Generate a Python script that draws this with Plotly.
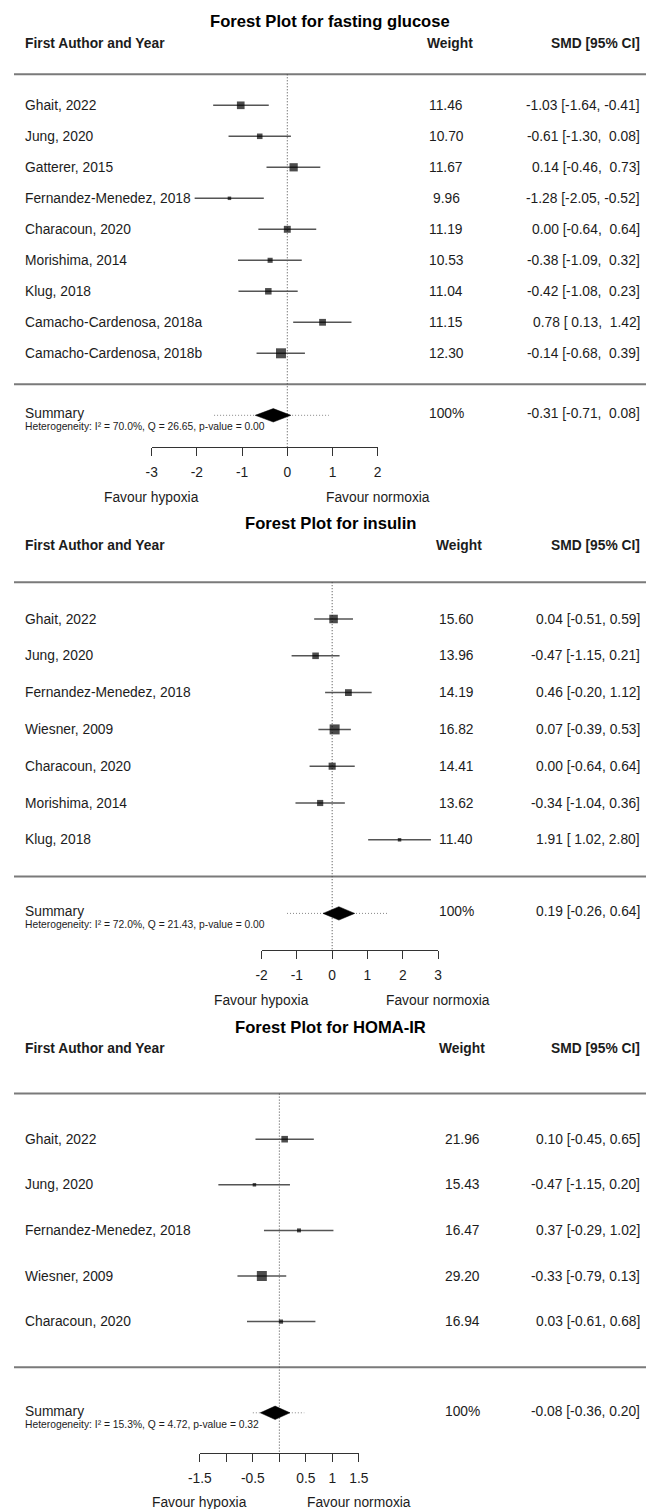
import plotly.graph_objects as go

FONT = "Liberation Sans, Arial, Helvetica, sans-serif"
W, H = 646, 1509

# ---------------- data ----------------
fg_title = "Forest Plot for fasting glucose"
fg_studies = ["Ghait, 2022", "Jung, 2020", "Gatterer, 2015", "Fernandez-Menedez, 2018",
              "Characoun, 2020", "Morishima, 2014", "Klug, 2018",
              "Camacho-Cardenosa, 2018a", "Camacho-Cardenosa, 2018b"]
fg_weight = [11.46, 10.70, 11.67, 9.96, 11.19, 10.53, 11.04, 11.15, 12.30]
fg_smd = [-1.03, -0.61, 0.14, -1.28, 0.00, -0.38, -0.42, 0.78, -0.14]
fg_lo = [-1.64, -1.30, -0.46, -2.05, -0.64, -1.09, -1.08, 0.13, -0.68]
fg_hi = [-0.41, 0.08, 0.73, -0.52, 0.64, 0.32, 0.23, 1.42, 0.39]
fg_summary = [-0.31, -0.71, 0.08]
fg_pred = [-1.62, 0.92]
fg_het = "Heterogeneity: I² = 70.0%, Q = 26.65, p-value = 0.00"
fg_ticks = [-3, -2, -1, 0, 1, 2]
fg_ticklabels = ["-3", "-2", "-1", "0", "1", "2"]

in_title = "Forest Plot for insulin"
in_studies = ["Ghait, 2022", "Jung, 2020", "Fernandez-Menedez, 2018", "Wiesner, 2009",
              "Characoun, 2020", "Morishima, 2014", "Klug, 2018"]
in_weight = [15.60, 13.96, 14.19, 16.82, 14.41, 13.62, 11.40]
in_smd = [0.04, -0.47, 0.46, 0.07, 0.00, -0.34, 1.91]
in_lo = [-0.51, -1.15, -0.20, -0.39, -0.64, -1.04, 1.02]
in_hi = [0.59, 0.21, 1.12, 0.53, 0.64, 0.36, 2.80]
in_summary = [0.19, -0.26, 0.64]
in_pred = [-1.28, 1.60]
in_het = "Heterogeneity: I² = 72.0%, Q = 21.43, p-value = 0.00"
in_ticks = [-2, -1, 0, 1, 2, 3]
in_ticklabels = ["-2", "-1", "0", "1", "2", "3"]

hr_title = "Forest Plot for HOMA-IR"
hr_studies = ["Ghait, 2022", "Jung, 2020", "Fernandez-Menedez, 2018", "Wiesner, 2009",
              "Characoun, 2020"]
hr_weight = [21.96, 15.43, 16.47, 29.20, 16.94]
hr_smd = [0.10, -0.47, 0.37, -0.33, 0.03]
hr_lo = [-0.45, -1.15, -0.29, -0.79, -0.61]
hr_hi = [0.65, 0.20, 1.02, 0.13, 0.68]
hr_summary = [-0.08, -0.36, 0.20]
hr_pred = [-0.50, 0.47]
hr_het = "Heterogeneity: I² = 15.3%, Q = 4.72, p-value = 0.32"
hr_ticks = [-1.5, -1, -0.5, 0, 0.5, 1, 1.5]
hr_ticklabels = ["-1.5", "", "-0.5", "", "0.5", "1", "1.5"]

header_cols = ["First Author and Year", "Weight", "SMD [95% CI]"]
summary_label = "Summary"
summary_weight = "100%"
favour_left = "Favour hypoxia"
favour_right = "Favour normoxia"

# ---------------- layout (pixel geometry, separate from data) ----------------
LAYOUT = [
    dict(title_px=22, header_px=43.3, step=31.0, axis_px=447, favour_px=497,
         ax_left=151.7, ax_right=377.7, w_hdr=450, w_val=446),
    dict(title_px=523, header_px=545.4, step=36.8, axis_px=950, favour_px=1000,
         ax_left=261.6, ax_right=438.0, w_hdr=459, w_val=456),
    dict(title_px=1027, header_px=1048, step=45.6, axis_px=1453, favour_px=1502,
         ax_left=199.8, ax_right=358.9, w_hdr=462, w_val=463),
]

PANELS = [
    dict(title=fg_title, studies=fg_studies, weight=fg_weight, smd=fg_smd, lo=fg_lo, hi=fg_hi,
         summary=fg_summary, pred=fg_pred, het=fg_het, ticks=fg_ticks, ticklabels=fg_ticklabels),
    dict(title=in_title, studies=in_studies, weight=in_weight, smd=in_smd, lo=in_lo, hi=in_hi,
         summary=in_summary, pred=in_pred, het=in_het, ticks=in_ticks, ticklabels=in_ticklabels),
    dict(title=hr_title, studies=hr_studies, weight=hr_weight, smd=hr_smd, lo=hr_lo, hi=hr_hi,
         summary=hr_summary, pred=hr_pred, het=hr_het, ticks=hr_ticks, ticklabels=hr_ticklabels),
]

TXT = "#1c1c1c"
FS = 13.8
NB = "\u00a0"


def paper_y(px):
    return 1 - px / H


def paper_x(px):
    return px / W


def ci_strings(est, lo, hi):
    es = [f"{v:.2f}" for v in est]
    ls = [f"{v:.2f}" for v in lo]
    hs = [f"{v:.2f}" for v in hi]
    wl = max(len(s) for s in ls)
    wh = max(len(s) for s in hs)
    out = []
    for e, l, h in zip(es, ls, hs):
        l = NB * (wl - len(l)) + l
        h = NB * (wh - len(h)) + h
        out.append(f"{e} [{l},{NB}{h}]")
    return out


fig = go.Figure()
annotations = []
shapes = []
layout_axes = {}

for k, (p, g) in enumerate(zip(PANELS, LAYOUT), start=1):
    xa = "x" if k == 1 else f"x{k}"
    ya = "y" if k == 1 else f"y{k}"
    n = len(p["studies"])
    s = g["step"]
    hp = g["header_px"]
    rows = list(range(2, n + 2))
    sum_row = n + 3
    axis_row = (g["axis_px"] - hp) / s
    top_row = -1.0
    top_px = hp + top_row * s

    # axes
    layout_axes["xaxis" if k == 1 else f"xaxis{k}"] = dict(
        domain=[paper_x(g["ax_left"]), paper_x(g["ax_right"])],
        range=[min(p["ticks"]), max(p["ticks"])],
        anchor=ya, tickmode="array", tickvals=p["ticks"], ticktext=p["ticklabels"],
        ticks="outside", ticklen=8, tickwidth=1, tickcolor="#333",
        showline=True, linecolor="#333", linewidth=1, automargin=False,
        showgrid=False, zeroline=False, fixedrange=True,
        tickfont=dict(family=FONT, size=FS, color=TXT), ticklabelstandoff=4,
    )
    layout_axes["yaxis" if k == 1 else f"yaxis{k}"] = dict(
        domain=[paper_y(g["axis_px"]), paper_y(top_px)],
        range=[axis_row, top_row], anchor=xa, visible=False, automargin=False,
        showgrid=False, zeroline=False, fixedrange=True,
    )

    # zero reference line
    shapes.append(dict(type="line", xref=xa, yref=ya, x0=0, x1=0, y0=1, y1=axis_row,
                       line=dict(color="#444", width=1, dash="1px,2px"), layer="below"))
    # horizontal rules
    for r in (1, n + 2):
        shapes.append(dict(type="line", xref="paper", yref=ya, x0=paper_x(14), x1=1,
                           y0=r, y1=r, line=dict(color="#7a7a7a", width=2), layer="below"))

    # CI lines
    for r, lo, hi in zip(rows, p["lo"], p["hi"]):
        fig.add_trace(go.Scatter(x=[lo, hi], y=[r, r], mode="lines", xaxis=xa, yaxis=ya,
                                 line=dict(color="#555", width=1.5), hoverinfo="skip",
                                 showlegend=False))
    # boxes sized by weight
    wmin, wmax = min(p["weight"]), max(p["weight"])
    sizes = [3.5 + (w - wmin) / (wmax - wmin) * 6.5 for w in p["weight"]]
    fig.add_trace(go.Scatter(x=p["smd"], y=rows, mode="markers", xaxis=xa, yaxis=ya,
                             marker=dict(symbol="square", size=sizes, color="black",
                                         line=dict(width=0)),
                             hoverinfo="skip", showlegend=False, cliponaxis=False))

    # prediction interval (dotted) and summary diamond
    est, slo, shi = p["summary"]
    fig.add_trace(go.Scatter(x=p["pred"], y=[sum_row, sum_row], mode="lines", xaxis=xa,
                             yaxis=ya, line=dict(color="#888", width=1, dash="1px,2px"),
                             hoverinfo="skip", showlegend=False))
    hh = 6.7 / s
    fig.add_trace(go.Scatter(x=[slo, est, shi, est, slo],
                             y=[sum_row, sum_row - hh, sum_row, sum_row + hh, sum_row],
                             mode="lines", fill="toself", fillcolor="black",
                             line=dict(color="black", width=0.5), xaxis=xa, yaxis=ya,
                             hoverinfo="skip", showlegend=False))

    # title
    annotations.append(dict(text=f"<b>{p['title']}</b>", xref="paper", yref="paper",
                            x=paper_x(330), y=paper_y(g["title_px"]), xanchor="center",
                            yanchor="middle", showarrow=False,
                            font=dict(family=FONT, size=16.6, color="black")))
    # headers
    annotations.append(dict(text=f"<b>{header_cols[0]}</b>", xref="paper", yref=ya,
                            x=paper_x(23), y=0, xanchor="left", yanchor="middle",
                            showarrow=False, font=dict(family=FONT, size=FS, color=TXT)))
    annotations.append(dict(text=f"<b>{header_cols[1]}</b>", xref="paper", yref=ya,
                            x=paper_x(g["w_hdr"]), y=0, xanchor="center", yanchor="middle",
                            showarrow=False, font=dict(family=FONT, size=FS, color=TXT)))
    annotations.append(dict(text=f"<b>{header_cols[2]}</b>", xref="paper", yref=ya,
                            x=paper_x(641.5), y=0, xanchor="right", yanchor="middle",
                            showarrow=False, font=dict(family=FONT, size=FS, color=TXT)))

    ci_txt = ci_strings(p["smd"] + [est], p["lo"] + [slo], p["hi"] + [shi])
    for i, r in enumerate(rows):
        annotations.append(dict(text=p["studies"][i], xref="paper", yref=ya, x=paper_x(23),
                                y=r, xanchor="left", yanchor="middle", showarrow=False,
                                font=dict(family=FONT, size=FS, color=TXT)))
        annotations.append(dict(text=f"{p['weight'][i]:.2f}", xref="paper", yref=ya,
                                x=paper_x(g["w_val"]), y=r, xanchor="center",
                                yanchor="middle", showarrow=False,
                                font=dict(family=FONT, size=FS, color=TXT)))
        annotations.append(dict(text=ci_txt[i], xref="paper", yref=ya, x=paper_x(641.5),
                                y=r, xanchor="right", yanchor="middle", showarrow=False,
                                font=dict(family=FONT, size=FS, color=TXT)))
    # summary row
    annotations.append(dict(text=summary_label, xref="paper", yref=ya, x=paper_x(23),
                            y=sum_row - 1.5 / s, xanchor="left", yanchor="middle",
                            showarrow=False, font=dict(family=FONT, size=FS, color=TXT)))
    annotations.append(dict(text=p["het"], xref="paper", yref=ya, x=paper_x(22.5),
                            y=sum_row + 11.5 / s, xanchor="left", yanchor="middle",
                            showarrow=False, font=dict(family=FONT, size=10.3, color=TXT)))
    annotations.append(dict(text=summary_weight, xref="paper", yref=ya, x=paper_x(g["w_val"]),
                            y=sum_row - 1.5 / s, xanchor="center", yanchor="middle",
                            showarrow=False, font=dict(family=FONT, size=FS, color=TXT)))
    annotations.append(dict(text=ci_txt[-1], xref="paper", yref=ya, x=paper_x(641.5),
                            y=sum_row - 1.5 / s, xanchor="right", yanchor="middle",
                            showarrow=False, font=dict(family=FONT, size=FS, color=TXT)))
    # favour labels under extreme ticks
    annotations.append(dict(text=favour_left, xref=xa, yref="paper", x=min(p["ticks"]),
                            y=paper_y(g["favour_px"]), xanchor="center", yanchor="middle",
                            showarrow=False, font=dict(family=FONT, size=FS, color=TXT)))
    annotations.append(dict(text=favour_right, xref=xa, yref="paper", x=max(p["ticks"]),
                            y=paper_y(g["favour_px"]), xanchor="center", yanchor="middle",
                            showarrow=False, font=dict(family=FONT, size=FS, color=TXT)))

fig.update_layout(
    template="none",
    width=W, height=H, autosize=False,
    margin=dict(l=0, r=0, t=0, b=0, pad=0, autoexpand=False),
    paper_bgcolor="white", plot_bgcolor="rgba(0,0,0,0)",
    showlegend=False, annotations=annotations, shapes=shapes,
    font=dict(family=FONT, size=FS, color=TXT),
    **layout_axes,
)

fig.write_html("out.html", config={"displayModeBar": False, "staticPlot": True},
               post_script="document.body.style.margin='0';")
